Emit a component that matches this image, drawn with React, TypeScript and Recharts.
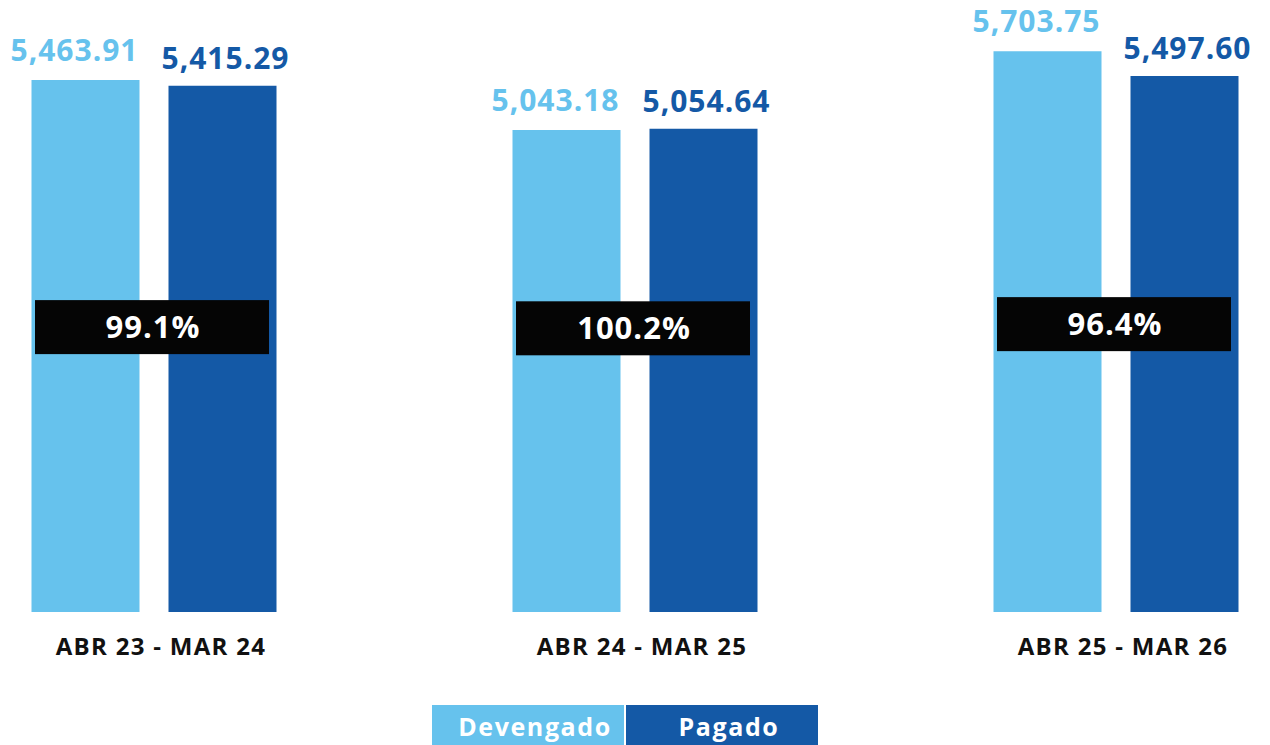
import { ComposedChart, Bar, Line, XAxis, YAxis, LabelList, Legend } from 'recharts';

const periods = ['ABR 23 - MAR 24', 'ABR 24 - MAR 25', 'ABR 25 - MAR 26'];
const devengado = [5463.91, 5043.18, 5703.75];
const pagado = [5415.29, 5054.64, 5497.6];
const pctLabels = ['99.1%', '100.2%', '96.4%'];
// height (in chart units) where the % box sits
const pctLevel = [3390, 3380, 3415];

const LIGHT = '#66C2ED';
const DARK = '#1459A6';
const FONT = '"Open Sans", sans-serif';

const data = periods.map((p, i) => ({
  period: p,
  devengado: devengado[i],
  pagado: pagado[i],
  pct: pctLabels[i],
  level: pctLevel[i],
}));

const fmt = (v: number) =>
  v.toLocaleString('en-US', { minimumFractionDigits: 2, maximumFractionDigits: 2 });

const valueLabel = (color: string, dx: number, dy: number) => (props: any) => {
  const { x, y, width, value } = props;
  return (
    <text
      x={x + width / 2 + dx}
      y={y - dy}
      fill={color}
      textAnchor="middle"
      fontFamily={FONT}
      fontWeight={700}
      fontSize={30}
      letterSpacing={1}
    >
      {fmt(value)}
    </text>
  );
};

const pctBox = (props: any) => {
  const { x, y, value } = props;
  return (
    <g>
      <rect x={x - 119} y={y - 27} width={234} height={54} fill="#050505" />
      <text
        x={x - 1}
        y={y + 11}
        fill="#fff"
        textAnchor="middle"
        fontFamily={FONT}
        fontWeight={700}
        fontSize={31}
        letterSpacing={1}
      >
        {value}
      </text>
    </g>
  );
};

const CategoryTick = (props: any) => {
  const { x, y, payload } = props;
  return (
    <text
      x={x + 7}
      y={y + 43}
      fill="#111"
      textAnchor="middle"
      fontFamily={FONT}
      fontWeight={700}
      fontSize={24}
      letterSpacing={1.3}
    >
      {payload.value}
    </text>
  );
};

const renderLegend = (props: any) => {
  const items = (props.payload || []).filter((p: any) => p.type !== 'none');
  return (
    <div style={{ display: 'flex', gap: 2 }}>
      {items.map((p: any) => (
        <div
          key={p.value}
          style={{
            width: 192,
            height: 40,
            background: p.color,
            color: '#fff',
            fontFamily: FONT,
            fontWeight: 700,
            fontSize: 25,
            letterSpacing: 1.6,
            display: 'flex',
            alignItems: 'center',
            justifyContent: 'center',
            paddingLeft: 14,
            paddingTop: 2,
            boxSizing: 'border-box',
          }}
        >
          {p.value}
        </div>
      ))}
    </div>
  );
};

export default function App() {
  return (
    <div style={{ position: 'absolute', left: 0, top: 0, width: 1270, height: 745, overflow: 'hidden', background: '#fff' }}>
      <ComposedChart
        width={1270}
        height={745}
        data={data}
        margin={{ top: 16, right: -86.5, bottom: 93, left: -86.5 }}
        barSize={108}
        barGap={29}
      >
        <XAxis
          dataKey="period"
          axisLine={false}
          tickLine={false}
          tickSize={0}
          tickMargin={0}
          height={40}
          interval={0}
          tick={<CategoryTick />}
        />
        <YAxis hide domain={[1000, 6000]} allowDataOverflow />
        <Legend
          verticalAlign="middle"
          content={renderLegend}
          wrapperStyle={{ left: 432, top: 705, width: 386, height: 40 }}
        />
        <Bar dataKey="devengado" name="Devengado" fill={LIGHT} isAnimationActive={false}>
          <LabelList dataKey="devengado" content={valueLabel(LIGHT, -11, 19)} />
        </Bar>
        <Bar dataKey="pagado" name="Pagado" fill={DARK} isAnimationActive={false}>
          <LabelList dataKey="pagado" content={valueLabel(DARK, 3, 17)} />
        </Bar>
        <Line
          dataKey="level"
          stroke="none"
          dot={false}
          activeDot={false}
          legendType="none"
          isAnimationActive={false}
        >
          <LabelList dataKey="pct" content={pctBox} />
        </Line>
      </ComposedChart>
    </div>
  );
}
